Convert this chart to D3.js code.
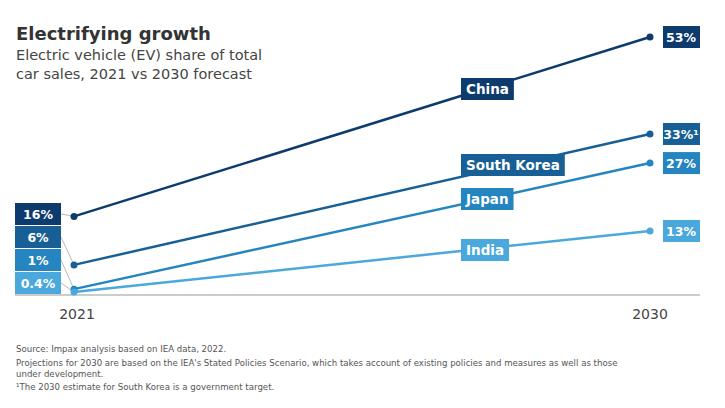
<!DOCTYPE html>
<html><head><meta charset="utf-8">
<script src="https://cdn.jsdelivr.net/npm/d3@7"></script>
<style>body{margin:0;background:#fff;font-family:"DejaVu Sans",sans-serif}</style>
</head><body><div id="chart"></div>
<script>
const countries = ["China", "South Korea", "Japan", "India"];
const years = [2021, 2030];
const v2021 = [16, 6, 1, 0.4];
const v2030 = [53, 33, 27, 13];
const labels2021 = ["16%", "6%", "1%", "0.4%"];
const labels2030 = ["53%", "33%¹", "27%", "13%"];
const nameLabelY = [89, 165, 199, 250];
const colors = ["#0d3b6e", "#175f95", "#2585c0", "#4aa8dc"];

const W = 725, H = 408;
const svg = d3.select("#chart").append("svg").attr("width", W).attr("height", H);

const x = d3.scaleLinear().domain(years).range([74, 650]);
const y = d3.scaleLinear().domain([0, 53]).range([294, 37]);

svg.append("text").attr("x", 16).attr("y", 40).attr("font-size", 18).attr("font-weight", 600)
  .attr("fill", "#333").text("Electrifying growth");
svg.append("text").attr("x", 16).attr("y", 60).attr("font-size", 14.5).attr("fill", "#444")
  .text("Electric vehicle (EV) share of total");
svg.append("text").attr("x", 16).attr("y", 79).attr("font-size", 14.5).attr("fill", "#444")
  .text("car sales, 2021 vs 2030 forecast");

// baseline
svg.append("line").attr("x1", 15).attr("x2", 700).attr("y1", y(0) + 1).attr("y2", y(0) + 1)
  .attr("stroke", "#ccc").attr("stroke-width", 2);

// left boxes
const boxH = 22, boxTop = 203;
countries.forEach((c, i) => {
  const by = boxTop + i * (boxH + 1);
  svg.append("line").attr("x1", 61).attr("y1", by + boxH / 2).attr("x2", x(2021)).attr("y2", y(v2021[i]))
    .attr("stroke", "#bbb").attr("stroke-width", 1);
  svg.append("rect").attr("x", 15).attr("y", by).attr("width", 46).attr("height", boxH).attr("fill", colors[i]);
  svg.append("text").attr("x", 38).attr("y", by + 16).attr("text-anchor", "middle")
    .attr("font-size", 12.5).attr("font-weight", 600).attr("fill", "#fff").text(labels2021[i]);
});

// lines
countries.forEach((c, i) => {
  const pts = [[2021, v2021[i]], [2030, v2030[i]]];
  svg.append("path").attr("d", d3.line().x(d => x(d[0])).y(d => y(d[1]))(pts))
    .attr("stroke", colors[i]).attr("stroke-width", 2.5).attr("fill", "none");
  pts.forEach(p => svg.append("circle").attr("cx", x(p[0])).attr("cy", y(p[1])).attr("r", 3.5).attr("fill", colors[i]));
  svg.append("rect").attr("x", 663).attr("y", y(v2030[i]) - 11).attr("width", 37).attr("height", 22).attr("fill", colors[i]);
  svg.append("text").attr("x", 681).attr("y", y(v2030[i]) + 5).attr("text-anchor", "middle")
    .attr("font-size", 12.5).attr("font-weight", 600).attr("fill", "#fff").text(labels2030[i]);
  const t = svg.append("text").attr("x", 466).attr("y", nameLabelY[i] + 5)
    .attr("font-size", 13.5).attr("font-weight", 600).attr("fill", "#fff").text(c);
  const w = t.node().getComputedTextLength();
  svg.insert("rect", () => t.node()).attr("x", 461).attr("y", nameLabelY[i] - 11)
    .attr("width", w + 10).attr("height", 22).attr("fill", colors[i]);
});

years.forEach(yr => svg.append("text").attr("x", yr === 2021 ? 77 : 650).attr("y", 319)
  .attr("text-anchor", "middle").attr("font-size", 14).attr("fill", "#444").text(yr));

const notes = [
  "Source: Impax analysis based on IEA data, 2022.",
  "Projections for 2030 are based on the IEA's Stated Policies Scenario, which takes account of existing policies and measures as well as those",
  "under development.",
  "¹The 2030 estimate for South Korea is a government target."
];
[352, 366, 376.5, 390].forEach((ny, i) => svg.append("text").attr("x", 16).attr("y", ny)
  .attr("font-size", 8.6).attr("fill", "#555").text(notes[i]));
</script></body></html>
